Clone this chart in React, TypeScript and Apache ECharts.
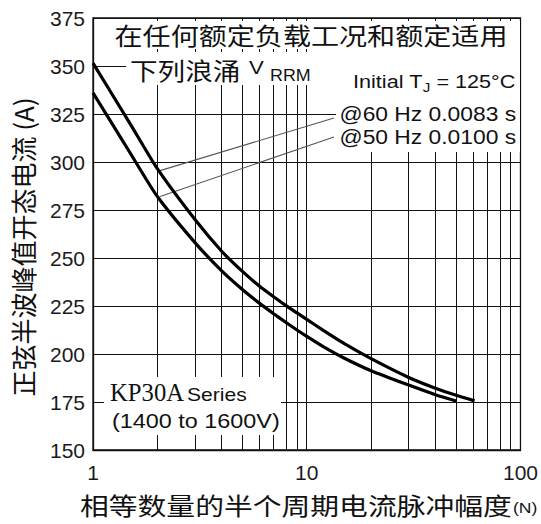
import React, { useEffect, useRef } from 'react';
import * as echarts from 'echarts';

// ---- data ----
const nUpper = [1, 1.5, 2, 3, 4, 5, 6, 7, 8, 9, 10, 12, 15, 20, 30, 40, 50, 61];
const iUpper60 = [351.5, 319.5, 296.5, 270, 253.5, 243, 235.4, 229.8, 225.2, 221.4, 218, 212.2, 205.4, 197.6, 187.8, 182.2, 178.5, 175.6];
const nLower = [1, 1.5, 2, 3, 4, 5, 6, 7, 8, 9, 10, 12, 15, 20, 30, 40, 50];
const iLower50 = [336, 304.3, 282, 258, 243.3, 233.6, 226.5, 221, 216.4, 212.5, 209.2, 203.7, 197.8, 191.3, 183.8, 178.8, 175.5];
const minorGridN = [2, 3, 4, 5, 6, 7, 8, 9, 20, 30, 40, 50, 60, 70, 80, 90];
const leader60N = [2.06, 13.4];
const leader60I = [295.5, 322.9];
const leader50N = [2.06, 13.4];
const leader50I = [282, 313];
const yMin = 150;
const yMax = 375;
const yStep = 25;
const xMin = 1;
const xMax = 100;

const titleLine1 = '在任何额定负载工况和额定适用';
const titleLine2 = '下列浪涌';
const yName = '正弦半波峰值开态电流 (A)';
const xName = '相等数量的半个周期电流脉冲幅度';

const SANS = '"Liberation Sans", Arial, sans-serif';
const CJK = '"Noto Sans CJK SC", "Noto Sans CJK JP", sans-serif';
const SERIF = '"Liberation Serif", "Times New Roman", serif';
const INK = '#111';

let measureCtx: CanvasRenderingContext2D | null = null;
function tw(text: string, size: number, family: string): number {
  if (!measureCtx) measureCtx = document.createElement('canvas').getContext('2d');
  if (!measureCtx) return text.length * size * 0.55;
  measureCtx.font = `${size}px ${family}`;
  return measureCtx.measureText(text).width;
}

function txt(text: string, x: number, y: number, size: number, family: string, o: any = {}) {
  return {
    type: 'text',
    x,
    y,
    z: 120,
    silent: true,
    scaleX: o.sx ?? 1,
    scaleY: o.sy ?? 1,
    rotation: o.rot ?? 0,
    style: {
      text,
      fontSize: size,
      fontFamily: family,
      fill: INK,
      align: o.align ?? 'left',
      verticalAlign: 'middle',
    },
  };
}

function box(x: number, y: number, w: number, h: number) {
  return { type: 'rect', z: 110, silent: true, shape: { x, y, width: w, height: h }, style: { fill: '#fff' } };
}

export default function App() {
  const ref = useRef<HTMLDivElement>(null);
  useEffect(() => {
    if (!ref.current) return;
    const chart = echarts.init(ref.current, undefined, { renderer: 'svg' });

    const upper = nUpper.map((n, i) => [n, iUpper60[i]]);
    const lower = nLower.map((n, i) => [n, iLower50[i]]);
    const l60 = leader60N.map((n, i) => [n, leader60I[i]]);
    const l50 = leader50N.map((n, i) => [n, leader50I[i]]);

    const SX = 1.17;
    const iX = 353;
    const w1 = tw('Initial T', 18.5, SANS) * SX;
    const w2 = tw('J', 13, SANS) * SX;
    const xNameX = 80;
    const xNameW = tw(xName, 24, CJK) * 1.2;

    const curveStyle = (data: number[][], name: string) => ({
      name,
      type: 'line',
      data,
      smooth: 0.2,
      showSymbol: false,
      symbol: 'none',
      lineStyle: { color: '#000', width: 3.2 },
      z: 5,
      silent: true,
    });

    const option: any = {
      animation: false,
      backgroundColor: '#fff',
      grid: { left: 93, right: 19, top: 18, bottom: 74, show: true, borderColor: INK, borderWidth: 1.3, backgroundColor: 'transparent' },
      xAxis: {
        type: 'log',
        logBase: 10,
        min: xMin,
        max: xMax,
        axisLine: { show: true, lineStyle: { color: INK, width: 1.3 } },
        axisTick: { show: false },
        axisLabel: { fontSize: 21, color: '#1a1a1a', fontFamily: SANS, margin: 12, showMinLabel: true, showMaxLabel: true },
        splitLine: { show: true, lineStyle: { color: INK, width: 1 } },
        minorTick: { show: false },
        minorSplitLine: { show: false },
      },
      yAxis: {
        type: 'value',
        min: yMin,
        max: yMax,
        interval: yStep,
        axisLine: { show: true, lineStyle: { color: INK, width: 1.3 } },
        axisTick: { show: false },
        axisLabel: { fontSize: 21, color: '#1a1a1a', fontFamily: SANS, margin: 8 },
        splitLine: { show: true, lineStyle: { color: INK, width: 1 } },
      },
      series: [
        {
          ...curveStyle(upper, '@60 Hz 0.0083 s'),
          markLine: {
            silent: true,
            symbol: ['none', 'none'],
            label: { show: false },
            lineStyle: { color: INK, width: 1, type: 'solid' },
            emphasis: { disabled: true },
            data: minorGridN.map((n) => ({ xAxis: n })),
            z: 1,
          },
        },
        curveStyle(lower, '@50 Hz 0.0100 s'),
        {
          type: 'line',
          data: l60,
          showSymbol: false,
          symbol: 'none',
          lineStyle: { color: '#555', width: 1.1 },
          z: 4,
          silent: true,
        },
        {
          type: 'line',
          data: l50,
          showSymbol: false,
          symbol: 'none',
          lineStyle: { color: '#555', width: 1.1 },
          z: 4,
          silent: true,
        },
      ],
      graphic: [
        box(108, 21, 412, 28),
        box(126, 52, 214, 33),
        box(336, 47, 184, 105),
        box(104, 377, 177, 58),
        txt(titleLine1, 114.5, 35, 24, CJK, { sx: 1.17 }),
        txt(titleLine2, 130, 69, 24, CJK, { sx: 1.15 }),
        txt('V', 249, 67, 19, SANS, { sx: SX }),
        txt('RRM', 270, 75, 17, SANS, { sx: 1.05 }),
        txt('Initial T', iX, 82, 18.5, SANS, { sx: SX }),
        txt('J', iX + w1, 87, 13, SANS, { sx: SX }),
        txt(' = 125°C', iX + w1 + w2, 82, 18.5, SANS, { sx: SX }),
        txt('@60 Hz 0.0083 s', 339.5, 114, 19.5, SANS, { sx: SX }),
        txt('@50 Hz 0.0100 s', 339.5, 137, 19.5, SANS, { sx: SX }),
        txt('KP30A', 110, 392, 26, SERIF, { sx: 0.95 }),
        txt('Series', 187, 395, 18, SANS, { sx: SX }),
        txt('(1400 to 1600V)', 112, 421, 20, SANS, { sx: SX }),
        txt(yName, 22, 247, 26, CJK, { rot: Math.PI / 2, align: 'center' }),
        txt(xName, xNameX, 505, 24, CJK, { sx: 1.2 }),
        txt('(N)', xNameX + xNameW + 1, 507, 15, SANS, { sx: SX }),
      ],
    };
    chart.setOption(option);
    return () => chart.dispose();
  }, []);
  return <div ref={ref} style={{ position: 'absolute', left: 0, top: 0, width: 541, height: 524, background: '#fff' }} />;
}
